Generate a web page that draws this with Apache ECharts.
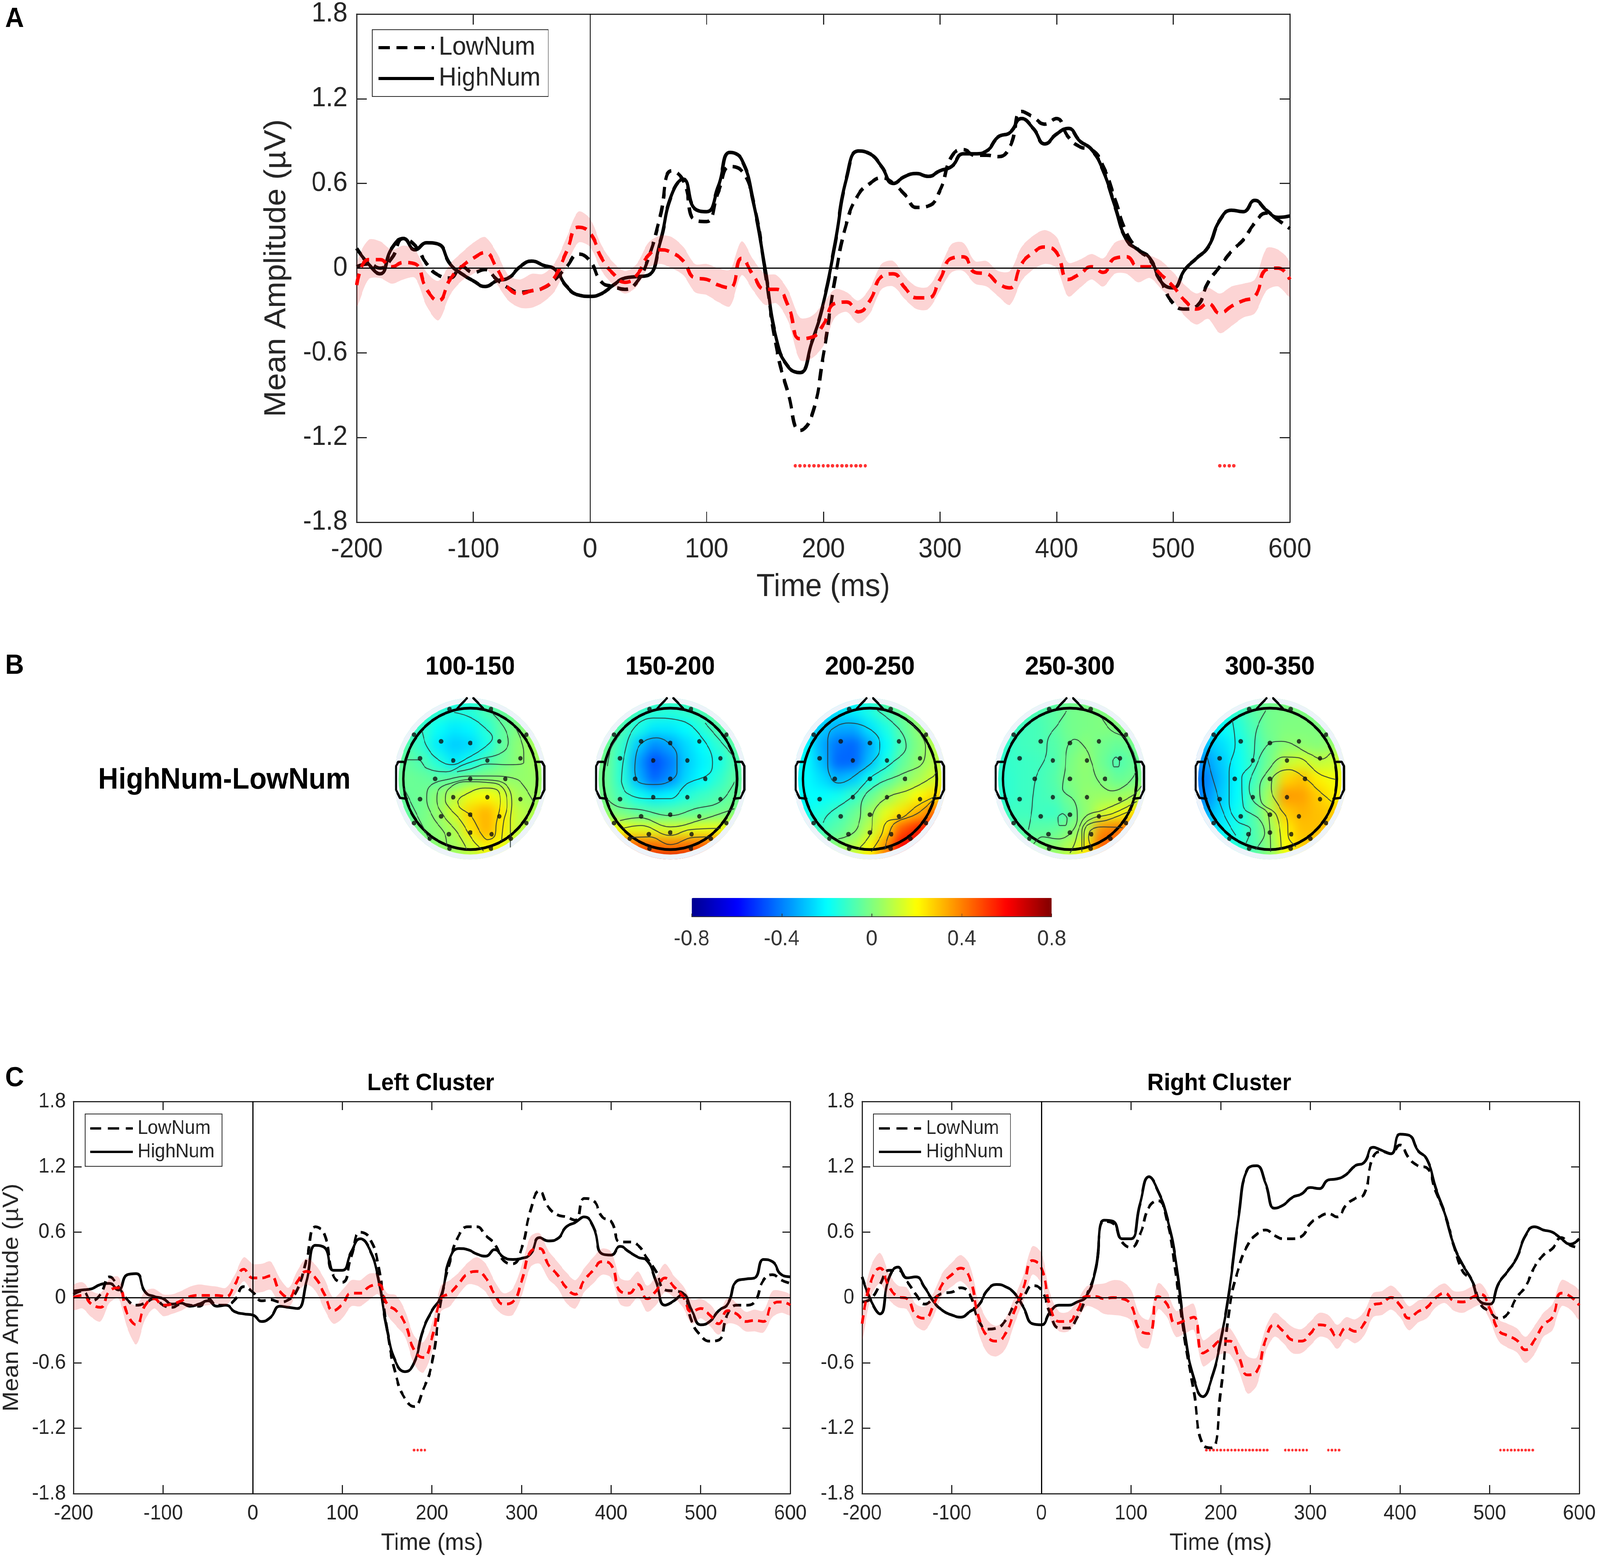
<!DOCTYPE html>
<html>
<head>
<meta charset="utf-8">
<title>HighNum vs LowNum ERP</title>
<script src="https://cdn.jsdelivr.net/npm/echarts@6/dist/echarts.min.js"></script>
<style>
  html, body { margin: 0; background: #fff; overflow: hidden; }
  #page { position: absolute; left: 0; top: 0; width: 4328px; height: 3999px; transform-origin: 0 0; }
  #heat, #main { position: absolute; left: 0; top: 0; width: 4328px; height: 3999px; }
  #heat { filter: blur(15px); }
</style>
</head>
<body>
<div id="page">
  <div id="heat"></div>
  <div id="main"></div>
</div>
<script>
// the layout below is in figure pixels, the window may be narrower than the figure
document.getElementById('page').style.transform =
  'scale(' + (window.innerWidth / 4328) + ',' + (window.innerHeight / 3999) + ')';

// time base of all waveforms, ms
var timeMs = [];
for (var t = -200; t <= 600; t += 10) timeMs.push(t);

var xTicks = [-200, -100, 0, 100, 200, 300, 400, 500, 600];
var yTicks = [-1.8, -1.2, -0.6, 0, 0.6, 1.2, 1.8];
var barTicks = [-0.8, -0.4, 0, 0.4, 0.8];

// panel A
var highA = [.14,.03,-.04,.14,.21,.13,.18,.17,.03,-.04,
  -.09,-.13,-.09,-.07,.01,.05,.02,-.01,-.13,-.19,
  -.2,-.18,-.12,-.07,-.06,-.05,.18,.52,.63,.42,
  .4,.58,.82,.77,.47,0,-.51,-.7,-.74,-.53,
  -.25,.17,.64,.83,.81,.72,.6,.65,.67,.65,
  .69,.72,.81,.81,.83,.93,.96,1.06,.99,.88,
  .95,.99,.9,.84,.69,.44,.2,.13,.07,-.1,
  -.14,-.01,.07,.15,.34,.41,.4,.48,.41,.36,.37];
var lowA = [.01,.03,0,.07,.21,.16,.03,-.05,-.07,.01,
  -.03,-.01,-.08,-.14,-.17,-.16,-.14,-.08,.01,.1,
  .05,-.1,-.13,-.15,-.1,.07,.36,.69,.62,.34,
  .33,.54,.72,.69,.47,-.02,-.57,-.89,-1.15,-1.05,
  -.62,-.08,.32,.52,.6,.64,.6,.52,.43,.44,
  .55,.79,.84,.8,.8,.79,.86,1.11,1.07,1.02,
  1.06,.93,.86,.84,.72,.49,.25,.13,.06,-.1,
  -.25,-.29,-.27,-.1,.01,.12,.2,.32,.39,.34,.28];
var diffA = [-.12,.06,.06,.01,.04,.03,-.15,-.23,-.08,.01,
  .07,.11,0,-.14,-.18,-.16,-.14,-.06,.12,.29,
  .25,.07,-.04,-.1,-.05,.09,.13,.11,.05,-.07,
  -.08,-.12,-.14,.07,-.05,-.15,-.15,-.27,-.5,-.49,
  -.4,-.25,-.24,-.31,-.23,-.06,-.04,-.14,-.21,-.21,
  -.08,.07,.08,-.03,-.04,-.11,-.14,.03,.11,.15,
  .11,-.08,-.04,.01,-.03,.07,.08,.01,.01,-.05,
  -.13,-.23,-.29,-.25,-.32,-.27,-.23,-.2,-.01,0,-.08];
var semA = [.15,.14,.13,.12,.12,.1,.12,.14,.11,.1,
  .11,.11,.11,.09,.1,.12,.1,.1,.1,.11,
  .1,.09,.08,.08,.08,.09,.1,.11,.1,.1,
  .11,.12,.13,.12,.11,.11,.1,.11,.15,.15,
  .15,.1,.07,.08,.09,.09,.09,.08,.08,.08,
  .08,.1,.1,.08,.09,.09,.12,.12,.12,.12,
  .11,.12,.1,.09,.1,.11,.12,.11,.08,.1,
  .1,.11,.11,.11,.14,.14,.12,.12,.15,.13,.12];
var sigA = [176,180,184,188,192,196,200,204,208,212,216,220,224,228,232,236,540,544,548,552];

// panel C, left cluster
var highL = [.06,.07,.08,.12,.13,.07,.21,.22,.05,.01,
  -.01,-.06,-.05,-.08,-.06,-.03,-.08,-.07,-.13,-.15,
  -.16,-.22,-.18,-.08,-.09,-.1,.15,.48,.46,.25,
  .25,.42,.54,.45,.18,-.3,-.6,-.68,-.6,-.3,
  -.12,.01,.36,.45,.44,.4,.38,.44,.37,.35,
  .36,.4,.55,.52,.54,.65,.69,.74,.65,.4,
  .39,.47,.42,.37,.34,.15,-.07,-.03,.03,-.12,
  -.25,-.22,-.12,-.06,.15,.17,.18,.35,.33,.21,.19];
var lowL = [.03,.06,-.03,.03,.19,.1,-.02,-.07,-.05,-.01,
  -.07,-.09,-.06,-.07,-.08,-.01,-.07,-.07,-.02,.1,
  .05,-.03,-.02,-.04,-.02,.08,.35,.65,.58,.2,
  .14,.38,.6,.55,.3,-.3,-.72,-.93,-1,-.85,
  -.6,-.03,.33,.57,.65,.65,.57,.49,.34,.31,
  .45,.8,.98,.83,.76,.74,.71,.91,.89,.74,
  .7,.51,.51,.48,.36,.24,.07,.06,.04,-.22,
  -.35,-.4,-.39,-.15,-.07,-.07,-.04,.16,.21,.16,.13];
var diffL = [0,.02,-.06,-.09,.06,.09,-.15,-.25,-.07,-.01,
  -.07,-.06,-.03,.01,.02,.02,.02,.01,.12,.26,
  .18,.18,.2,.06,0,.15,.24,.18,.03,-.12,
  -.06,.04,.04,.1,.12,-.06,-.12,-.24,-.48,-.55,
  -.37,-.01,.04,.13,.22,.24,.18,.03,-.06,-.04,
  .15,.42,.45,.3,.21,.09,.03,.16,.25,.33,
  .3,.06,.04,.12,-.01,.06,.18,.1,.01,-.13,
  -.1,-.16,-.24,-.12,-.15,-.22,-.21,-.22,-.06,-.04,-.07];
var semL = [.11,.12,.12,.13,.11,.1,.13,.18,.13,.09,
  .1,.09,.09,.09,.1,.09,.08,.08,.09,.11,
  .13,.13,.13,.12,.09,.1,.12,.12,.14,.12,
  .13,.12,.12,.12,.09,.1,.14,.12,.13,.14,
  .13,.12,.12,.1,.1,.13,.13,.12,.1,.12,
  .14,.14,.14,.13,.12,.14,.13,.11,.12,.12,
  .12,.12,.12,.12,.12,.13,.13,.1,.1,.11,
  .09,.1,.1,.12,.1,.09,.1,.1,.12,.1,.09];
var sigL = [180,184,188,192];

// panel C, right cluster
var highR = [.19,-.03,-.15,.18,.28,.18,.19,.09,-.04,-.12,
  -.16,-.18,-.13,-.07,.07,.12,.1,.04,-.09,-.24,
  -.25,-.13,-.07,-.07,-.04,.01,.24,.71,.7,.54,
  .54,.86,1.11,.98,.74,.33,-.33,-.74,-.91,-.74,
  -.39,.09,.74,1.18,1.21,1.05,.82,.85,.92,.95,
  1.01,1,1.08,1.09,1.13,1.21,1.24,1.38,1.35,1.32,
  1.5,1.49,1.35,1.27,1,.77,.48,.3,.16,-.04,
  -.06,.13,.24,.36,.57,.65,.62,.6,.54,.49,.54];
var lowR = [-.04,-.01,.12,.25,.25,.15,.03,-.06,-.01,.04,
  .05,.09,.03,-.21,-.29,-.28,-.21,-.07,.01,.11,
  .07,-.15,-.28,-.28,-.18,.01,.24,.7,.68,.51,
  .46,.58,.83,.89,.71,.21,-.39,-.86,-1.35,-1.38,
  -.86,-.09,.27,.48,.58,.62,.57,.54,.54,.56,
  .68,.74,.77,.74,.85,.91,.95,1.29,1.34,1.32,
  1.4,1.28,1.21,1.19,.97,.77,.48,.24,.16,-.06,
  -.13,-.19,-.15,0,.1,.28,.39,.45,.55,.48,.46];
var diffR = [-.24,.15,.27,.1,.01,-.01,-.16,-.19,-.06,.13,
  .21,.27,.18,-.18,-.36,-.4,-.33,-.12,.09,.34,
  .27,-.09,-.22,-.22,-.12,.01,.01,-.01,0,-.01,
  -.07,-.3,-.33,.01,-.06,-.24,-.21,-.18,-.51,-.46,
  -.4,-.4,-.54,-.71,-.68,-.39,-.25,-.31,-.39,-.4,
  -.33,-.25,-.27,-.36,-.28,-.31,-.24,-.07,-.05,0,
  -.07,-.19,-.13,-.09,0,.04,-.03,-.04,0,.03,
  -.1,-.3,-.35,-.39,-.48,-.39,-.25,-.18,.04,.01,-.07];
var semR = [.15,.14,.14,.12,.1,.1,.1,.11,.11,.1,
  .11,.12,.12,.15,.15,.14,.14,.12,.12,.13,
  .14,.12,.09,.09,.09,.09,.11,.14,.16,.16,
  .14,.14,.13,.12,.12,.12,.12,.12,.12,.12,
  .12,.12,.13,.17,.13,.11,.11,.11,.12,.11,
  .11,.11,.11,.11,.1,.11,.11,.11,.11,.11,
  .11,.11,.1,.1,.09,.09,.09,.1,.1,.1,
  .1,.1,.11,.11,.12,.13,.11,.12,.12,.12,.13];
var sigR = [184,188,192,196,200,204,208,212,216,220,224,228,232,236,240,244,248,252,
  272,276,280,284,288,292,296,320,324,328,332,512,516,520,524,528,532,536,540,544,548];
var sigLevel = -1.4;

// topographies: rows from front (y=+1.2) to back (y=-1.2), columns left to right
var headGridPos = [-1.2,-.96,-.72,-.48,-.24,0,.24,.48,.72,.96,1.2];
var map100 = [
  [-.12,-.12,-.12,-.13,-.14,-.14,-.1,-.06,-.03,-.01,0],
  [-.1,-.1,-.1,-.12,-.15,-.14,-.08,-.04,-.02,0,0],
  [-.08,-.09,-.12,-.19,-.23,-.21,-.14,-.05,0,.03,.04],
  [-.06,-.07,-.13,-.23,-.28,-.26,-.17,-.05,.02,.06,.08],
  [-.05,-.05,-.08,-.15,-.23,-.17,-.09,-.03,.02,.05,.07],
  [-.03,-.03,-.04,-.06,-.05,-.01,.01,.02,.03,.04,.05],
  [-.04,-.04,-.03,.02,.09,.17,.2,.15,.06,.05,.06],
  [-.05,-.05,-.02,.03,.14,.27,.32,.23,.1,.07,.08],
  [-.03,-.03,-.01,.02,.07,.24,.32,.23,.1,.08,.08],
  [0,0,0,.02,.05,.12,.22,.17,.1,.1,.1],
  [.02,.02,.02,.02,.04,.06,.12,.13,.12,.1,.1]];
var map150 = [
  [-.08,-.08,-.08,-.08,-.09,-.09,-.08,-.06,-.03,0,0],
  [-.02,-.03,-.06,-.1,-.13,-.14,-.12,-.08,-.03,0,0],
  [0,-.02,-.08,-.16,-.23,-.23,-.2,-.14,-.07,-.02,0],
  [0,-.03,-.12,-.28,-.38,-.34,-.26,-.2,-.13,-.06,-.03],
  [0,-.03,-.14,-.35,-.48,-.41,-.28,-.22,-.17,-.08,-.04],
  [0,-.03,-.14,-.32,-.44,-.38,-.26,-.2,-.13,-.06,-.03],
  [0,-.03,-.1,-.18,-.23,-.21,-.15,-.11,-.08,-.04,-.02],
  [.03,.02,-.02,-.05,-.07,-.06,-.05,-.04,-.02,0,.02],
  [.2,.2,.18,.16,.15,.14,.15,.17,.18,.2,.22],
  [.52,.5,.48,.46,.44,.42,.44,.46,.48,.48,.52],
  [.72,.72,.7,.68,.68,.68,.68,.68,.7,.72,.72]];
var map200 = [
  [-.14,-.15,-.16,-.18,-.16,-.12,-.06,-.02,.03,.08,.1],
  [-.18,-.2,-.22,-.24,-.22,-.16,-.08,-.02,.05,.12,.15],
  [-.2,-.22,-.28,-.33,-.33,-.24,-.16,-.06,.02,.1,.15],
  [-.18,-.2,-.33,-.42,-.44,-.33,-.2,-.08,0,.08,.14],
  [-.18,-.2,-.3,-.44,-.44,-.3,-.17,-.05,.02,.08,.13],
  [-.2,-.2,-.25,-.32,-.28,-.18,-.08,0,.06,.13,.18],
  [-.2,-.2,-.2,-.18,-.12,-.04,.04,.12,.2,.25,.3],
  [-.18,-.18,-.15,-.1,-.04,.04,.16,.24,.32,.42,.47],
  [-.12,-.12,-.1,-.06,0,.1,.24,.47,.55,.6,.62],
  [-.02,-.02,0,.02,.08,.2,.38,.6,.66,.68,.68],
  [.1,.1,.1,.1,.15,.25,.42,.6,.65,.66,.66]];
var map250 = [
  [-.1,-.1,-.09,-.08,-.06,-.03,-.01,0,.02,.04,.05],
  [-.1,-.1,-.09,-.08,-.06,-.02,-.01,0,.02,.05,.06],
  [-.12,-.11,-.1,-.09,-.06,-.02,-.01,0,0,.03,.05],
  [-.12,-.12,-.1,-.09,-.07,-.03,.01,-.02,-.04,-.02,0],
  [-.13,-.12,-.11,-.1,-.08,-.01,.03,-.03,-.08,-.04,-.01],
  [-.13,-.13,-.11,-.1,-.07,0,.02,0,-.04,-.02,.01],
  [-.13,-.13,-.11,-.1,-.08,-.02,.03,.04,.04,.06,.1],
  [-.1,-.1,-.1,-.1,-.11,-.05,.02,.12,.17,.24,.28],
  [-.07,-.07,-.07,-.06,-.05,0,.08,.38,.42,.42,.42],
  [-.02,-.02,-.02,0,.02,.08,.22,.46,.46,.44,.44],
  [.03,.03,.03,.03,.05,.12,.25,.38,.4,.4,.4]];
var map300 = [
  [-.15,-.14,-.12,-.1,-.05,-.02,0,0,0,0,0],
  [-.2,-.18,-.15,-.12,-.06,-.02,-.01,0,0,0,0],
  [-.28,-.25,-.2,-.15,-.08,-.02,0,0,0,.01,.01],
  [-.32,-.3,-.25,-.18,-.1,-.03,.02,.02,.01,.03,.04],
  [-.38,-.36,-.28,-.19,-.11,-.02,.1,.14,.1,.12,.14],
  [-.42,-.4,-.3,-.2,-.1,.02,.26,.3,.22,.18,.2],
  [-.42,-.38,-.28,-.2,-.07,.07,.36,.35,.28,.22,.25],
  [-.38,-.33,-.25,-.18,-.07,.08,.28,.32,.3,.28,.3],
  [-.3,-.28,-.22,-.16,-.08,.04,.22,.3,.3,.3,.32],
  [-.2,-.18,-.15,-.14,-.08,.02,.2,.28,.3,.32,.34],
  [-.12,-.12,-.1,-.08,-.05,.02,.14,.22,.28,.3,.32]];

// electrode sites, shared by all five heads
var electrodes = [[-.31,.986],[.31,.986],[-.84,.625],[.84,.625],[-.435,.53],[0,.507],[.435,.53],
  [-.75,.29],[-.255,.26],[.255,.26],[.75,.29],[-.525,0],[0,0],[.525,0],
  [-.75,-.287],[-.255,-.26],[.255,-.26],[.75,-.287],[-.84,-.625],[.84,-.625],
  [-.435,-.53],[0,-.507],[.435,-.53],[-.32,-.783],[0,-.76],[.32,-.783],
  [-.605,-.845],[.605,-.845],[-.31,-.986],[.31,-.986]];
var noseLines = [[[-.19,1],[-.05,1.14]],[[.19,1],[.05,1.14]]];
var earLines = [[[-1,.24],[-1.075,.24],[-1.108,.18],[-1.108,-.155],[-1.05,-.27],[-.95,-.28]],
  [[1,.24],[1.075,.24],[1.108,.18],[1.108,-.155],[1.05,-.27],[.95,-.28]]];

var contours100 = [
  [[-.72,.68],[-.65,.46],[-.49,.28],[-.28,.2],[-.03,.3],[.26,.48],[.33,.58],[.22,.72],[0,.87],[-.24,.94]],
  [[-.95,.27],[-.78,.27],[-.65,.15],[-.36,.1],[-.1,.2],[.15,.28],[.47,.37],[.57,.52],[.51,.72],[.33,.93]],
  [[.68,.72],[.8,.37],[.8,.23],[.6,.2],[.26,.21],[0,.14],[-.2,.1]],
  [[.95,-.34],[.8,-.1],[.68,0],[.3,.04],[0,.04],[-.3,0],[-.6,-.1],[-.65,-.28],[-.55,-.55],[-.38,-.78],[-.35,-.95]],
  [[.6,-.97],[.6,-.6],[.62,-.35],[.55,-.1],[.33,-.02],[0,-.01],[-.28,-.06],[-.47,-.15],[-.5,-.3],[-.4,-.52],[-.2,-.75],[-.05,-1]],
  [[.47,-.88],[.5,-.6],[.55,-.38],[.51,-.16],[.35,-.06],[-.07,-.04],[-.32,-.14],[-.37,-.3],[-.32,-.4],[-.15,-.58],[.05,-.88],[.2,-1.02]],
  [[-.19,-.32],[-.11,-.24],[.22,-.13],[.39,-.15],[.45,-.32],[.39,-.63],[.37,-.8],[.26,-.86],[.16,-.77],[.01,-.52],[-.15,-.41],[-.19,-.32]],
  [[-.99,-.13],[-.76,-.58],[-.61,-.86]]];
var contours150 = [
  [[-.53,.13],[-.48,.44],[-.21,.58],[0,.49],[.1,.32],[.1,.1],[-.02,-.04],[-.25,-.08],[-.48,-.04],[-.53,.13]],
  [[-.73,-.04],[-.69,.32],[-.54,.72],[-.25,.86],[.17,.82],[.46,.6],[.63,.24],[.58,.07],[.25,-.07],[0,-.28],[-.33,-.28],[-.65,-.2],[-.73,-.04]],
  [[-.96,-.27],[-.79,-.39],[-.42,-.44],[0,-.52],[.38,-.42],[.75,-.32],[.96,-.04]],
  [[-.75,-.59],[-.46,-.55],[0,-.68],[.46,-.58],[.96,-.42]],
  [[-.71,-.7],[-.44,-.66],[0,-.8],[.29,-.72],[.75,-.7]],
  [[-.58,-.83],[-.31,-.82],[0,-.93],[.33,-.83],[.58,-.82]],
  [[.52,.79],[.71,.58],[.96,.3]],
  [[-.94,.18],[-.88,.44],[-.75,.63]]];
var contours200 = [
  [[-.63,.55],[-.58,.69],[-.32,.79],[.02,.69],[.15,.49],[.11,.32],[-.15,.1],[-.47,-.06],[-.58,.01],[-.63,.21],[-.63,.55]],
  [[.11,.97],[.45,.69],[.54,.46],[.31,.21],[0,.01],[-.26,-.25],[-.61,-.49],[-.7,-.62]],
  [[.57,.83],[.83,.46],[.8,.24],[.48,.07],[.08,-.1],[-.12,-.32],[-.15,-.58],[-.24,-.76],[-.47,-.85]],
  [[1,.1],[.94,.03],[.6,-.15],[.25,-.27],[.05,-.49],[.02,-.75],[-.18,-1]],
  [[1,-.24],[.71,-.38],[.48,-.55],[.25,-.61],[.17,-.8],[.02,-1.03]],
  [[.97,-.27],[.71,-.49],[.37,-.63],[.28,-.8],[.22,-1]]];
var contours250 = [
  [[-.05,.96],[-.18,.77],[-.32,.58],[-.36,.32],[-.5,.04],[-.55,-.24],[-.57,-.46],[-.62,-.72]],
  [[.99,.1],[.86,-.07],[.63,-.17],[.43,-.04],[.32,.24],[.25,.41],[.07,.56],[-.04,.44],[-.07,.15],[-.11,-.13],[.07,-.32],[.11,-.55],[.02,-.76],[-.18,-.85],[-.41,-.82],[-.54,-.92]],
  [[.69,.31],[.74,.25],[.72,.17],[.66,.17],[.64,.25],[.69,.31]],
  [[-.11,-.49],[-.04,-.56],[-.07,-.66],[-.15,-.66],[-.18,-.55],[-.11,-.49]],
  [[.48,.86],[.61,.69],[.82,.58],[.93,.41],[1,.24]],
  [[1.07,-.1],[.93,-.24],[.5,-.44],[.25,-.52],[.14,-.69],[.07,-.92],[0,-1.05]],
  [[1,-.32],[.64,-.49],[.29,-.58],[.18,-.75],[.18,-1.03]],
  [[.93,-.44],[.57,-.58],[.27,-.65],[.21,-.8],[.21,-.97]],
  [[.79,-.69],[.5,-.68],[.32,-.72],[.28,-.83],[.32,-.97]]];
var contours300 = [
  [[-.94,.32],[-.83,-.07],[-.69,-.49],[-.51,-.8]],
  [[-.56,.83],[-.52,.49],[-.61,.1],[-.61,-.32],[-.51,-.58],[-.29,-.72],[-.36,-.92]],
  [[-.06,.97],[-.2,.69],[-.26,.24],[-.42,.01],[-.4,-.38],[-.15,-.58],[-.08,-.77],[-.22,-1]],
  [[.92,.38],[.78,.28],[.6,.35],[.17,.53],[-.02,.49],[-.22,.15],[-.31,-.13],[-.24,-.32],[-.02,-.52],[.01,-1.03]],
  [[.99,-.01],[.74,.07],[.42,.3],[.21,.31],[-.04,.1],[-.15,-.13],[-.13,-.32],[.1,-.52],[.17,-1]],
  [[.92,-.32],[.71,-.15],[.53,.01],[.28,.13],[.06,.04],[.02,-.13],[.15,-.41],[.26,-.58],[.28,-.83],[.39,-.96]]];

var headTitles = ['100-150', '150-200', '200-250', '250-300', '300-350'];
var headMaps = [map100, map150, map200, map250, map300];
var headContours = [contours100, contours150, contours200, contours250, contours300];
var headCenters = [1272, 1813, 2353, 2894, 3435];
var jetColors = ['#00008f','#0000ff','#0080ff','#00ffff','#80ff80','#ffff00','#ff8000','#ff0000','#800000'];

var FONT = '"Liberation Sans", Arial, sans-serif';
var INK = '#262626';
var headY = 1994, headCell = 43.44, headBox = headCell * 11;

// heat layer sits below and is softened as a whole
var heat = echarts.init(document.getElementById('heat'), null, {width: 4328, height: 3999, devicePixelRatio: 1});
var heatOption = {animation: false, backgroundColor: '#fff', grid: [], xAxis: [], yAxis: [], series: [],
  visualMap: {show: false, min: -0.8, max: 0.8, inRange: {color: jetColors}}};
headMaps.forEach(function (m, h) {
  heatOption.grid.push({left: headCenters[h] - headBox / 2, top: headY - headBox / 2, width: headBox, height: headBox});
  heatOption.xAxis.push({type: 'category', gridIndex: h, show: false, data: headGridPos});
  heatOption.yAxis.push({type: 'category', gridIndex: h, show: false, data: headGridPos});
  var cells = [];
  m.forEach(function (row, r) {
    row.forEach(function (v, c) {
      var x = headGridPos[c], y = headGridPos[10 - r];
      if (Math.sqrt(x * x + y * y) <= 1.3) cells.push([c, 10 - r, v]);
    });
  });
  heatOption.series.push({type: 'heatmap', xAxisIndex: h, yAxisIndex: h, data: cells, silent: true});
});
heat.setOption(heatOption);

// everything sharp goes in the top chart
var chart = echarts.init(document.getElementById('main'), null, {width: 4328, height: 3999, devicePixelRatio: 1});
var grids = [], xAxes = [], yAxes = [], series = [];

function tickFmt(v) { return String(+(+v).toFixed(1)); }

// one filled shape for the whole error band: data rows are [t, lower, upper]
function bandShape(params, api) {
  if (params.dataIndexInside !== 0) return null;
  var n = params.dataInsideLength, lower = [], upper = [];
  for (var i = 0; i < n; i++) {
    var v = params.context.rows[i];
    lower.push(api.coord([v[0], v[1]]));
    upper.unshift(api.coord([v[0], v[2]]));
  }
  return {type: 'polygon', shape: {points: lower.concat(upper), smooth: 0.3},
    style: {fill: 'rgba(238,40,40,0.2)'}};
}

function addPanel(p) {
  var g = grids.length;
  grids.push({left: p.left, top: p.top, width: p.width, height: p.height});
  var xi = xAxes.length, yi = yAxes.length;
  var line = {show: true, onZero: false, lineStyle: {color: INK, width: 3}};
  var tick = {show: true, inside: true, length: p.tick, lineStyle: {color: INK, width: 3}};
  xAxes.push({type: 'value', gridIndex: g, min: xTicks[0], max: xTicks[xTicks.length - 1], interval: 100,
    splitLine: {show: false}, axisLine: line, axisTick: tick, position: 'bottom',
    axisLabel: {fontFamily: FONT, fontSize: p.fontSize, color: INK, margin: p.xMargin, showMinLabel: true, showMaxLabel: true},
    name: 'Time (ms)', nameLocation: 'middle', nameGap: p.xNameGap,
    nameTextStyle: {fontFamily: FONT, fontSize: p.nameSize, color: INK}});
  xAxes.push({type: 'value', gridIndex: g, min: xTicks[0], max: xTicks[xTicks.length - 1], interval: 100, position: 'top',
    splitLine: {show: false}, axisLine: line, axisTick: tick, axisLabel: {show: false}});
  yAxes.push({type: 'value', gridIndex: g, min: yTicks[0], max: yTicks[yTicks.length - 1], interval: 0.6, position: 'left',
    splitLine: {show: false}, axisLine: line, axisTick: tick,
    axisLabel: {fontFamily: FONT, fontSize: p.fontSize, color: INK, margin: p.yMargin, formatter: tickFmt, showMinLabel: true, showMaxLabel: true},
    name: p.yName, nameLocation: 'middle', nameGap: p.yNameGap,
    nameTextStyle: {fontFamily: FONT, fontSize: p.nameSize, color: INK}});
  yAxes.push({type: 'value', gridIndex: g, min: yTicks[0], max: yTicks[yTicks.length - 1], interval: 0.6, position: 'right',
    splitLine: {show: false}, axisLine: line, axisTick: tick, axisLabel: {show: false}});

  var pts = function (arr) { return timeMs.map(function (t, i) { return [t, arr[i]]; }); };
  var common = {type: 'line', xAxisIndex: xi, yAxisIndex: yi, showSymbol: false, symbol: 'none', smooth: 0.5, silent: true};
  series.push(Object.assign({}, common, {name: 'LowNum', data: pts(p.low), z: 2, itemStyle: {color: '#000'},
    lineStyle: {color: '#000', width: p.lineWidth, type: p.dash}}));
  series.push(Object.assign({}, common, {name: 'HighNum', data: pts(p.high), z: 2, itemStyle: {color: '#000'},
    lineStyle: {color: '#000', width: p.lineWidth, type: 'solid'}}));
  var rows = timeMs.map(function (t, i) { return [t, p.diff[i] - p.sem[i], p.diff[i] + p.sem[i]]; });
  series.push({type: 'custom', xAxisIndex: xi, yAxisIndex: yi, silent: true, z: 3, clip: true,
    renderItem: function (params, api) { params.context.rows = rows; return bandShape(params, api); },
    encode: {x: 0, y: [1, 2]}, data: rows});
  series.push(Object.assign({}, common, {name: 'HighNum-LowNum', data: pts(p.diff), z: 4,
    lineStyle: {color: '#f00', width: p.lineWidth, type: p.dash},
    markLine: {silent: true, symbol: 'none', z: 5, animation: false, label: {show: false},
      lineStyle: {color: '#000', width: 3, type: 'solid'}, data: [{xAxis: 0}, {yAxis: 0}]}}));
  series.push({type: 'scatter', xAxisIndex: xi, yAxisIndex: yi, silent: true, z: 4, symbolSize: p.dot,
    itemStyle: {color: '#f00'}, data: p.sig.map(function (t) { return [t, sigLevel]; })});
}

addPanel({left: 965, top: 36, width: 2524, height: 1301, tick: 27, fontSize: 70, nameSize: 81, xMargin: 36, yMargin: 25,
  xNameGap: 126, yNameGap: 176, yName: 'Mean Amplitude (µV)', lineWidth: 9, dash: [30, 18], dot: 9,
  low: lowA, high: highA, diff: diffA, sem: semA, sig: sigA});
addPanel({left: 198, top: 2820, width: 1940, height: 1004, tick: 22, fontSize: 53, nameSize: 62, xMargin: 25, yMargin: 21,
  xNameGap: 96, yNameGap: 136, yName: 'Mean Amplitude (µV)', lineWidth: 7, dash: [22, 14], dot: 7,
  low: lowL, high: highL, diff: diffL, sem: semL, sig: sigL});
addPanel({left: 2332, top: 2820, width: 1940, height: 1004, tick: 22, fontSize: 53, nameSize: 62, xMargin: 25, yMargin: 21,
  xNameGap: 96, yNameGap: 136, yName: '', lineWidth: 7, dash: [22, 14], dot: 7,
  low: lowR, high: highR, diff: diffR, sem: semR, sig: sigR});

// heads
function headShape(params, api) {
  var c = api.coord([0, 0]);
  var unit = api.size([1, 1])[0];
  function ring(from, to, color) {
    return {type: 'circle', shape: {cx: c[0], cy: c[1], r: (from + to) / 2 * unit},
      style: {fill: 'none', stroke: color, lineWidth: (to - from) * unit}};
  }
  return {type: 'group', children: [
    ring(1.14, 1.8, '#fff'),
    ring(1.07, 1.14, '#edf3fa'),
    {type: 'circle', shape: {cx: c[0], cy: c[1], r: unit},
      style: {fill: 'none', stroke: '#000', lineWidth: 7}}
  ]};
}
headCenters.forEach(function (cx, h) {
  var g = grids.length;
  grids.push({left: cx - headBox / 2, top: headY - headBox / 2, width: headBox, height: headBox});
  var xi = xAxes.length, yi = yAxes.length;
  xAxes.push({type: 'value', gridIndex: g, show: false, min: -1.32, max: 1.32});
  yAxes.push({type: 'value', gridIndex: g, show: false, min: -1.32, max: 1.32});
  var plain = {type: 'line', xAxisIndex: xi, yAxisIndex: yi, showSymbol: false, symbol: 'none', silent: true, clip: false};
  series.push({type: 'custom', xAxisIndex: xi, yAxisIndex: yi, silent: true, z: 1, clip: false,
    renderItem: headShape, data: [[0, 0]]});
  headContours[h].forEach(function (c) {
    series.push(Object.assign({}, plain, {data: c, smooth: 0.4, z: 1.5,
      lineStyle: {color: '#2a3a38', width: 2.5, opacity: 0.85}}));
  });
  noseLines.concat(earLines).forEach(function (l) {
    series.push(Object.assign({}, plain, {data: l, z: 2, lineStyle: {color: '#000', width: 6, cap: 'round', join: 'round'}}));
  });
  series.push({type: 'scatter', xAxisIndex: xi, yAxisIndex: yi, silent: true, z: 3, clip: false, symbolSize: 12,
    itemStyle: {color: '#111'}, data: electrodes});
});

// colour bar
var barGrid = grids.length, barSeries = series.length;
grids.push({left: 1871, top: 2299, width: 974, height: 48});
xAxes.push({type: 'value', gridIndex: barGrid, min: -0.8, max: 0.8, interval: 0.4, z: 10, splitLine: {show: false},
  axisLine: {show: true, onZero: false, lineStyle: {color: '#333', width: 2}},
  axisTick: {show: true, inside: true, length: 8, lineStyle: {color: '#333', width: 2}},
  axisLabel: {fontFamily: FONT, fontSize: 56, color: '#333', margin: 30, formatter: tickFmt, showMinLabel: true, showMaxLabel: true}});
yAxes.push({type: 'value', gridIndex: barGrid, show: false, min: 0, max: 1});
series.push({type: 'scatter', xAxisIndex: xAxes.length - 1, yAxisIndex: yAxes.length - 1, silent: true,
  data: barTicks.map(function (v) { return [v, -1]; }), symbolSize: 0});

function legendBox(left, top, fontSize, sample, gap, pad, width) {
  return {left: left, top: top, orient: 'vertical', selectedMode: false, data: ['LowNum', 'HighNum'],
    itemWidth: sample, itemHeight: fontSize, itemGap: gap, padding: pad,
    lineStyle: {width: width, color: '#000'}, itemStyle: {opacity: 0},
    borderColor: INK, borderWidth: 2, backgroundColor: '#fff',
    textStyle: {fontFamily: FONT, fontSize: fontSize, color: INK, padding: [0, 0, 0, 8]}};
}

function label(text, left, top, size, bold, align) {
  return {text: text, left: left, top: top, textAlign: align || 'center', textVerticalAlign: 'middle', padding: 0,
    textStyle: {fontFamily: FONT, fontSize: size, fontWeight: bold ? 'bold' : 'normal', color: '#000'}};
}
var titles = [
  label('A', 14, 50, 70, true, 'left'),
  label('B', 14, 1706, 70, true, 'left'),
  label('C', 14, 2762, 70, true, 'left'),
  label('HighNum-LowNum', 607, 1998, 76, true),
  label('Left Cluster', 1165, 2774, 62, true),
  label('Right Cluster', 3298, 2774, 62, true)
];
headTitles.forEach(function (t, h) { titles.push(label(t, headCenters[h], 1709, 66, true)); });

chart.setOption({
  animation: false,
  backgroundColor: 'transparent',
  title: titles,
  legend: [
    legendBox(1007, 76, 66, 150, 13, [13, 21, 13, 13], 8),
    legendBox(230, 2852, 50, 115, 10, [12, 20, 12, 11], 6),
    legendBox(2363, 2852, 50, 115, 10, [12, 20, 12, 11], 6)
  ],
  visualMap: {type: 'continuous', show: true, seriesIndex: barSeries, min: -0.8, max: 0.8, orient: 'horizontal',
    left: 1871, top: 2299, itemWidth: 48, itemHeight: 974, padding: 0, calculable: false, showLabel: false,
    hoverLink: false, inRange: {color: jetColors}, textStyle: {fontSize: 0}},
  grid: grids,
  xAxis: xAxes,
  yAxis: yAxes,
  series: series
});
</script>
</body>
</html>
